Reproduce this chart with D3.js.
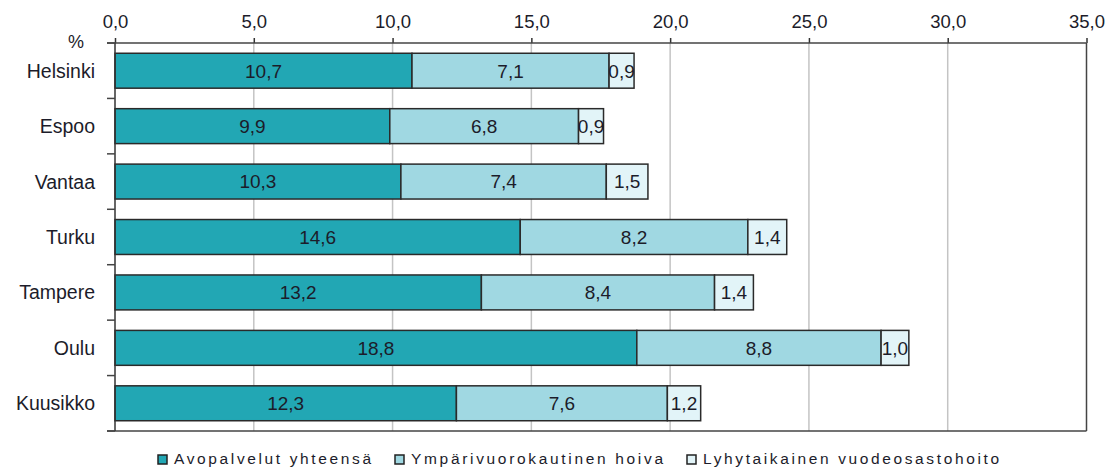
<!DOCTYPE html>
<html><head><meta charset="utf-8">
<script src="https://cdn.jsdelivr.net/npm/d3@7"></script>
<style>body{margin:0;background:#fff}svg{display:block;font-family:"Liberation Sans",Arial,sans-serif}</style>
</head><body><svg id="c" width="1111" height="469"></svg>
<script>
const categories = ["Helsinki","Espoo","Vantaa","Turku","Tampere","Oulu","Kuusikko"];
const avopalvelut = [10.7, 9.9, 10.3, 14.6, 13.2, 18.8, 12.3];
const ymparivuorokautinen = [7.1, 6.8, 7.4, 8.2, 8.4, 8.8, 7.6];
const lyhytaikainen = [0.9, 0.9, 1.5, 1.4, 1.4, 1.0, 1.2];
const seriesNames = ["Avopalvelut yhteensä","Ympärivuorokautinen hoiva","Lyhytaikainen vuodeosastohoito"];
const tickValues = [0,5,10,15,20,25,30,35];

(function(){
const colors = ["#22a7b4","#a0d8e2","#e2f4f8"];
const txt = "#1c1c2a";
const svg = d3.select("#c");
const pL = 115, pR = 1086.5, pT = 43, pB = 431;
const x = d3.scaleLinear().domain([0,35]).range([pL,pR]);
const y = d3.scaleBand().domain(categories).range([pT,pB]).paddingInner(0.37).paddingOuter(0.185);
const fmt = v => d3.format(".1f")(v).replace(".", ",");

svg.append("g").selectAll("line").data(tickValues.filter(t=>t>0 && t<35)).join("line")
  .attr("x1",d=>x(d)).attr("x2",d=>x(d)).attr("y1",pT).attr("y2",pB)
  .attr("stroke","#c4c4c4").attr("stroke-width",1.5);
svg.append("line").attr("x1",x(35)).attr("x2",x(35)).attr("y1",pT).attr("y2",pB).attr("stroke","#444").attr("stroke-width",1.5);

const rows = categories.map((c,i)=>({cat:c, a:avopalvelut[i], b:ymparivuorokautinen[i], c:lyhytaikainen[i]}));
const stack = d3.stack().keys(["a","b","c"])(rows);
const g = svg.append("g");
stack.forEach((layer,li)=>{
  g.append("g").selectAll("rect").data(layer).join("rect")
    .attr("x",d=>x(d[0])).attr("width",d=>x(d[1])-x(d[0]))
    .attr("y",d=>y(d.data.cat)).attr("height",y.bandwidth())
    .attr("fill",colors[li]).attr("stroke","#2a2a2a").attr("stroke-width",1.5);
});
stack.forEach((layer,li)=>{
  g.append("g").selectAll("text").data(layer).join("text")
    .attr("x",d=>(x(d[0])+x(d[1]))/2).attr("y",d=>y(d.data.cat)+y.bandwidth()/2)
    .attr("dy","0.36em").attr("text-anchor","middle")
    .attr("font-size",19).attr("fill",txt)
    .text(d=>fmt(d[1]-d[0]));
});

const xAxis = svg.append("g").attr("transform",`translate(0,${pT})`)
  .call(d3.axisTop(x).tickValues(tickValues).tickFormat(fmt).tickSize(5).tickSizeOuter(0));
xAxis.select(".domain").remove();
xAxis.selectAll(".tick line").attr("stroke","#333").attr("stroke-width",1.5);
xAxis.selectAll(".tick text").attr("font-size",18.5).attr("fill",txt).attr("font-family","Liberation Sans, Arial, sans-serif").attr("y",-15);
svg.append("line").attr("x1",107).attr("x2",pR).attr("y1",pT).attr("y2",pT).attr("stroke","#444").attr("stroke-width",1.5);
svg.append("line").attr("x1",107).attr("x2",pR).attr("y1",pB).attr("y2",pB).attr("stroke","#444").attr("stroke-width",1.5);

const step = (pB-pT)/categories.length;
svg.append("line").attr("x1",pL).attr("x2",pL).attr("y1",pT).attr("y2",pB).attr("stroke","#333").attr("stroke-width",1.5);
svg.append("g").selectAll("line").data(d3.range(categories.length+1)).join("line")
  .attr("x1",107).attr("x2",pL).attr("y1",i=>pT+i*step).attr("y2",i=>pT+i*step)
  .attr("stroke","#444").attr("stroke-width",1.5);
svg.append("g").selectAll("text").data(categories).join("text")
  .attr("x",95).attr("y",d=>y(d)+y.bandwidth()/2).attr("dy","0.36em")
  .attr("text-anchor","end").attr("font-size",19.5).attr("fill",txt).text(d=>d);
svg.append("text").attr("x",76).attr("y",48).attr("text-anchor","middle").attr("font-size",18).attr("fill",txt).text("%");

const legX = [158, 395, 687];
const legW = [197, 252, 296];
const leg = svg.append("g");
seriesNames.forEach((n,i)=>{
  leg.append("rect").attr("x",legX[i]).attr("y",455).attr("width",9).attr("height",9)
    .attr("fill",colors[i]).attr("stroke","#222").attr("stroke-width",1.5);
  leg.append("text").attr("x",legX[i]+16).attr("y",464).attr("font-size",15.5).attr("fill",txt)
    .attr("textLength",legW[i]).attr("lengthAdjust","spacing").text(n);
});
})();
</script></body></html>
